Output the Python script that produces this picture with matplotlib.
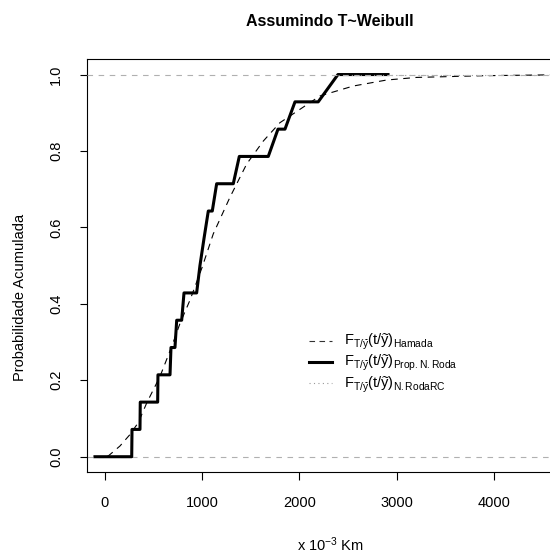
import matplotlib
matplotlib.use("Agg")
import matplotlib.pyplot as plt
from matplotlib.lines import Line2D

plt.rcParams['font.family'] = ['Liberation Sans', 'DejaVu Sans']
plt.rcParams['mathtext.fontset'] = 'custom'
plt.rcParams['mathtext.rm'] = 'Liberation Sans'
plt.rcParams['mathtext.it'] = 'Liberation Sans:italic'
plt.rcParams['mathtext.bf'] = 'Liberation Sans:bold'

# ---- data ----
title = "Assumindo T~Weibull"
xlabel = r"x 10$^{-3}$ Km"
ylabel = "Probabilidade Acumulada"
xticks = [0, 1000, 2000, 3000, 4000]
yticks = [0.0, 0.2, 0.4, 0.6, 0.8, 1.0]
ytick_labels = ["0.0", "0.2", "0.4", "0.6", "0.8", "1.0"]

# Hamada (Weibull) fitted CDF
hamada_x = [-100, 0, 34, 154, 257, 342, 430, 566, 686, 772, 875, 1000, 1114,
            1286, 1458, 1629, 1800, 2212, 2555, 2898, 3207, 3900, 4578, 4815]
hamada_F = [0.0, 0.0, 0.002, 0.028, 0.058, 0.089, 0.141, 0.21, 0.288, 0.349,
            0.41, 0.496, 0.583, 0.679, 0.766, 0.826, 0.874, 0.944, 0.97,
            0.9857, 0.9925, 0.997, 0.9992, 0.9995]

# Prop. N. Roda empirical CDF (vertices of the drawn path)
roda_x = [-103, 275, 278, 360, 363, 542, 545, 669, 679, 720, 738, 789, 813,
          943, 977, 1019, 1063, 1104, 1149, 1320, 1382, 1680, 1780, 1852,
          1955, 2194, 2397, 2912]
roda_F = [0.0, 0.0, 1/14, 1/14, 2/14, 2/14, 3/14, 3/14, 4/14, 4/14, 5/14,
          5/14, 6/14, 6/14, 7/14, 8/14, 9/14, 9/14, 10/14, 10/14, 11/14,
          11/14, 12/14, 12/14, 13/14, 13/14, 1.0, 1.0]

# N.RodaRC CDF (dotted, visible only at the top plateau)
rodarc_x = [2397, 4815]
rodarc_F = [1.0, 1.0]

labels = [r"$\mathrm{F_{T/\widetilde{y}}(t/\widetilde{y})_{Hamada}}$",
          r"$\mathrm{F_{T/\widetilde{y}}(t/\widetilde{y})_{Prop.N.Roda}}$",
          r"$\mathrm{F_{T/\widetilde{y}}(t/\widetilde{y})_{N.RodaRC}}$"]

# ---- figure ----
fig = plt.figure(figsize=(5.5, 5.57), dpi=100)
ax = fig.add_axes([87.3/550, 85/557, 0.883, 0.741])
ax.set_xlim(-182, 4815)
ax.set_ylim(-0.04, 1.04)

ax.axhline(0, color='#b0b0b0', lw=0.8, ls=(0, (5, 5)), zorder=1)
ax.plot(roda_x, roda_F, color='black', lw=2.2, solid_joinstyle='round',
        zorder=2)
ax.plot(rodarc_x, rodarc_F, color='#999999', lw=0.8, ls=(0, (1, 3)), zorder=3)
ax.plot(hamada_x, hamada_F, color='black', lw=0.8, ls=(0, (6, 5)), zorder=3)
ax.axhline(1, color='#b0b0b0', lw=0.8, ls=(0, (5, 5)), zorder=4)

ax.set_xticks(xticks)
ax.set_xticklabels([str(v) for v in xticks])
ax.set_yticks(yticks)
ax.set_yticklabels(ytick_labels, rotation=90, va='center')
ax.tick_params(direction='out', length=5.4, width=0.8, labelsize=10.5,
               pad=12)
for s in ax.spines.values():
    s.set_linewidth(0.8)

fig.text(330/550, 1 - 22/557, title, ha='center', va='center',
         fontsize=11.5, fontweight='bold')
fig.text(330/550, 1 - 545/557, xlabel, ha='center', va='center',
         fontsize=10.5)
fig.text(20/550, 1 - 297/557, ylabel, ha='center', va='center',
         fontsize=10.5, rotation=90)

handles = [Line2D([], [], color='#333333', lw=0.8, ls=(0, (5, 4))),
           Line2D([], [], color='black', lw=2.2),
           Line2D([], [], color='#999999', lw=0.8, ls=(0, (1, 3)))]
ax.legend(handles, labels, loc='upper left',
          bbox_to_anchor=(309/550, 1 - 332/557),
          bbox_transform=fig.transFigure, frameon=False, fontsize=10.5,
          handlelength=1.6, handletextpad=0.8, labelspacing=0.08,
          borderaxespad=0, borderpad=0)

fig.savefig("out.png", dpi=100)
